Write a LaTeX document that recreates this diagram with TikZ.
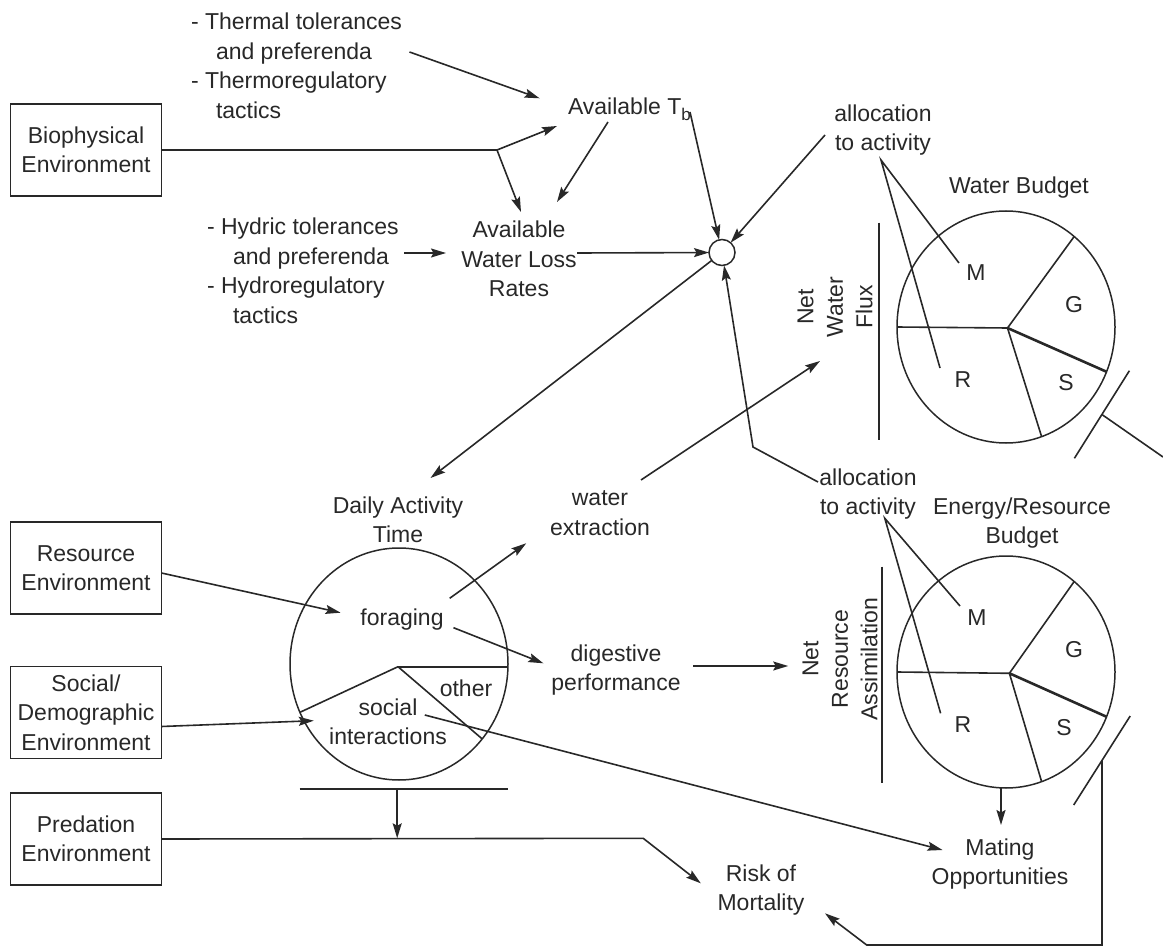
\documentclass[tikz,border=0pt]{standalone}
\usepackage{fontspec}
\setmainfont{Liberation Sans}
\usetikzlibrary{arrows.meta,shapes.geometric}
\definecolor{ink}{RGB}{40,40,40}
\begin{document}
\begin{tikzpicture}[x=1pt,y=-1pt,
  every node/.style={text=ink, font=\fontsize{23}{29.5}\selectfont, inner sep=0pt, outer sep=0pt},
  lbl/.style={align=center},
  envbox/.style={draw=ink, line width=1.6pt, minimum width=151pt, minimum height=92pt, align=center},
  pie/.style={draw=ink, ellipse, line width=1.5pt, minimum width=218pt, minimum height=232pt},
  conn/.style={draw=ink, line width=1.6pt},
  arr/.style={conn, -{Stealth[length=15pt,width=9pt,inset=2.5pt]}},
  heavy/.style={draw=ink, line width=2.6pt},
  bar/.style={draw=ink, line width=2.2pt}]
\useasboundingbox (0,0) rectangle (1163,947);

% ---------- nodes ----------
\node[envbox] (bio) at (86,150) {Biophysical\\Environment};
\node[envbox] (res) at (86,568) {Resource\\Environment};
\node[envbox] (soc) at (86,712.5) {Social/\\Demographic\\Environment};
\node[envbox] (pred) at (86,839) {Predation\\Environment};

\node[anchor=west, align=left] (therm) at (191,66) {- Thermal tolerances\\\hspace*{25pt}and preferenda\\- Thermoregulatory\\\hspace*{25pt}tactics};
\node[anchor=west, align=left] (hyd) at (207,271) {- Hydric tolerances\\\hspace*{26pt}and preferenda\\- Hydroregulatory\\\hspace*{26pt}tactics};

\node[anchor=base west] (tb) at (568,115) {Available T\raisebox{-6pt}{\fontsize{17}{17}\selectfont b}};
\node[lbl] (wl) at (519,259) {Available\\Water Loss\\Rates};
\node[circle, draw=ink, line width=1.5pt, minimum size=26pt] (sc) at (722,252.5) {};
\node[lbl] (alloc1) at (883,130) {allocation\\to activity};
\node (wbt) at (1019,188) {Water Budget};
\node[pie] (wpie) at (1006,327) {};
\node[lbl, rotate=90] (nwf) at (835,307) {Net\\Water\\Flux};
\node (wM) at (976,273) {M};
\node (wG) at (1074,305) {G};
\node (wR) at (963,380) {R};
\node (wS) at (1066,383) {S};

\node[lbl] (dat) at (398,520) {Daily Activity\\Time};
\node[pie] (dpie) at (399,664) {};
\node (forg) at (402,620) {foraging};
\node (oth) at (466,688) {other};
\node[lbl] (sint) at (388,722) {social\\interactions};
\node[lbl] (wex) at (600,513) {water\\extraction};
\node[lbl] (dig) at (616,670) {digestive\\performance};
\node[lbl] (alloc2) at (868,494) {allocation\\to activity};
\node[lbl] (ert) at (1022,523) {Energy/Resource\\Budget};
\node[pie] (epie) at (1006,672) {};
\node[lbl, rotate=90] (nra) at (840,659) {Net\\Resource\\Assimilation};
\node (eM) at (977,618) {M};
\node (eG) at (1074,650) {G};
\node (eR) at (963,725) {R};
\node (eS) at (1064,728) {S};
\node[lbl] (mat) at (1000,864) {Mating\\Opportunities};
\node[lbl] (risk) at (761,890) {Risk of\\Mortality};

% ---------- coordinates ----------
\coordinate (thA) at (409.5,52);
\coordinate (thB) at (539.6,98.3);
\coordinate (br) at (497,150);
\coordinate (brT) at (557,126);
\coordinate (brW) at (521,212);
\coordinate (tbA) at (608,122);
\coordinate (tbB) at (557,202);
\coordinate (hyA) at (404,253);
\coordinate (hyB) at (446,253);
\coordinate (wlA) at (577,253);
\coordinate (tbC) at (690,112);
\coordinate (a1A) at (825,135);
\coordinate (datA) at (430.5,478);
\coordinate (a2A) at (818,482);
\coordinate (a2K) at (753,447);
\coordinate (a1S) at (881,160);
\coordinate (a1M) at (959,263);
\coordinate (a1R) at (940,368);
\coordinate (wxA) at (641,480);
\coordinate (wxB) at (820,361);
\coordinate (wc) at (1007.5,328);
\coordinate (nwfT) at (879.3,222.7);
\coordinate (nwfB) at (879.3,440);
\coordinate (ws1) at (1074.4,458.3);
\coordinate (ws2) at (1129.4,370.7);
\coordinate (wsm) at (1101.9,414.5);
\coordinate (wsE) at (1163,457);

\coordinate (rsB) at (340.6,612.7);
\coordinate (scB) at (313.8,720.7);
\coordinate (fwA) at (449.7,598.3);
\coordinate (fwB) at (526.2,543.3);
\coordinate (fdA) at (453.5,627.7);
\coordinate (fdB) at (543.4,663.3);
\coordinate (dgA) at (693.4,666);
\coordinate (dgB) at (788.2,666);
\coordinate (a2S) at (884.8,518.3);
\coordinate (a2M) at (960,606);
\coordinate (a2R) at (940.6,713.3);
\coordinate (siA) at (424.8,715);
\coordinate (siB) at (942.5,850);
\coordinate (epB) at (1001,788);
\coordinate (epM) at (1001,825);
\coordinate (dc) at (398,666.7);
\coordinate (dbL) at (299.7,789);
\coordinate (dbR) at (508.2,789);
\coordinate (dbM) at (397.2,789);
\coordinate (dbP) at (397.2,838.3);
\coordinate (prK) at (643.2,838.3);
\coordinate (prB) at (700.8,883.3);
\coordinate (ec) at (1009.4,673.3);
\coordinate (nraT) at (881.9,566.7);
\coordinate (nraB) at (881.9,783.3);
\coordinate (es1) at (1073.7,805);
\coordinate (es2) at (1130.2,716);
\coordinate (esm) at (1102,760.5);
\coordinate (esD) at (1102,945);
\coordinate (esL) at (866.7,945);
\coordinate (rkB) at (825,913.3);

% ---------- upper connectors ----------
\draw[arr] (thA) -- (thB);
\draw[conn] (bio.east) -- (br);
\draw[arr] (br) -- (brT);
\draw[arr] (br) -- (brW);
\draw[arr] (tbA) -- (tbB);
\draw[arr] (hyA) -- (hyB);
\draw[arr] (wlA) -- (sc);
\draw[arr] (tbC) -- (sc);
\draw[arr] (a1A) -- (sc);
\draw[arr] (sc) -- (datA);
\draw[arr] (a2A) -- (a2K) -- (sc);
\draw[conn] (a1M) -- (a1S) -- (a1R);
\draw[arr] (wxA) -- (wxB);

% water pie
\draw[conn] (wc) -- (wpie.180);
\draw[conn] (wc) -- (wpie.53);
\draw[conn] (wc) -- (wpie.-72.5);
\draw[heavy] (wc) -- (wpie.-24);
\draw[bar] (nwfT) -- (nwfB);
\draw[conn] (ws1) -- (ws2);
\draw[conn] (wsm) -- (wsE);

% ---------- lower connectors ----------
\draw[arr] ([yshift=-5pt]res.east) -- (rsB);
\draw[arr] ([yshift=-14pt]soc.east) -- (scB);
\draw[arr] (fwA) -- (fwB);
\draw[arr] (fdA) -- (fdB);
\draw[arr] (dgA) -- (dgB);
\draw[conn] (a2M) -- (a2S) -- (a2R);
\draw[arr] (siA) -- (siB);
\draw[arr] (epB) -- (epM);

% daily pie
\draw[conn] (dc) -- (dc -| dpie.east);
\draw[conn] (dc) -- (dpie.206.9);
\draw[conn] (dc) -- (dpie.-42.3);
\draw[bar] (dbL) -- (dbR);
\draw[arr] (dbM) -- (dbP);
\draw[arr] (pred.east) -- (prK) -- (prB);

% energy pie
\draw[conn] (ec) -- (epie.180);
\draw[conn] (ec) -- (epie.53.7);
\draw[conn] (ec) -- (epie.-72.3);
\draw[heavy] (ec) -- (epie.-24.2);
\draw[bar] (nraT) -- (nraB);
\draw[conn] (es1) -- (es2);
\draw[arr] (esm) -- (esD) -- (esL) -- (rkB);
\end{tikzpicture}
\end{document}
